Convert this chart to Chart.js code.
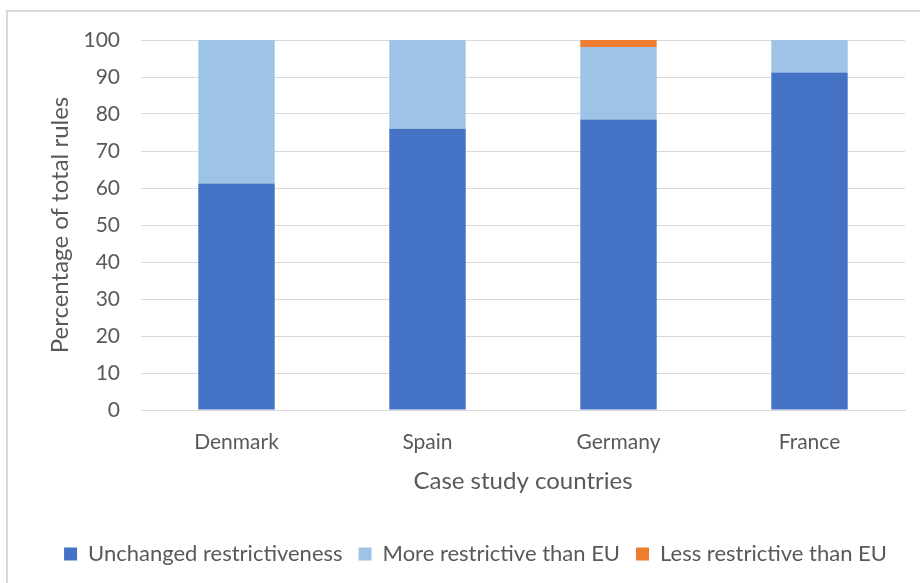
<!DOCTYPE html>
<html>
<head>
<meta charset="utf-8">
<script src="https://cdn.jsdelivr.net/npm/chart.js@4"></script>
<style>
    body { margin: 0; background: #fff; }
    #wrap { position: relative; width: 920px; height: 583px; overflow: hidden; }
    #frame { position: absolute; left: 6px; top: 10px; width: 960px; height: 620px; border: 2px solid #d9d9d9; }
    #chart1 { position: absolute; left: 0; top: 0; }
</style>
</head>
<body>
<div id="wrap">
    <div id="frame"></div>
    <canvas id="chart1" width="920" height="583"></canvas>
</div>
<script>
const countries = ['Denmark', 'Spain', 'Germany', 'France'];
const unchanged = [61.2, 76.0, 78.5, 91.2];
const moreRestrictive = [38.8, 24.0, 19.6, 8.8];
const lessRestrictive = [0, 0, 1.9, 0];
const yTicks = [0, 10, 20, 30, 40, 50, 60, 70, 80, 90, 100];

const fontFamily = 'Lato, "Open Sans", sans-serif';
const textColor = '#595959';

window.onload = function () {
    const ctx1 = document.getElementById('chart1').getContext('2d');

    new Chart(ctx1, {
        type: 'bar',
        data: {
            labels: countries,
            datasets: [{
                label: 'Unchanged restrictiveness',
                data: unchanged,
                backgroundColor: '#4472C4'
            }, {
                label: 'More restrictive than EU',
                data: moreRestrictive,
                backgroundColor: '#9DC3E6'
            }, {
                label: 'Less restrictive than EU',
                data: lessRestrictive,
                backgroundColor: '#ED7D31'
            }]
        },
        options: {
            responsive: false,
            animation: false,
            layout: {padding: {left: 46, right: 15, top: 40, bottom: 8}},
            datasets: {bar: {categoryPercentage: 1, barPercentage: 0.4}},
            plugins: {
                legend: {
                    position: 'bottom',
                    labels: {
                        boxWidth: 13,
                        boxHeight: 13,
                        padding: 16,
                        color: textColor,
                        font: {family: fontFamily, size: 22}
                    }
                },
                tooltip: {enabled: false}
            },
            scales: {
                x: {
                    stacked: true,
                    grid: {display: false, drawTicks: false},
                    border: {color: '#d9d9d9', width: 1},
                    ticks: {color: textColor, padding: 20, font: {family: fontFamily, size: 21}},
                    title: {
                        display: true,
                        text: 'Case study countries',
                        color: textColor,
                        padding: {top: 0, bottom: 31},
                        font: {family: fontFamily, size: 24}
                    },
                    afterFit: function (scale) { scale.height = 117; }
                },
                y: {
                    stacked: true,
                    min: 0,
                    max: 100,
                    afterBuildTicks: function (scale) {
                        scale.ticks = yTicks.map(v => ({value: v}));
                    },
                    grid: {color: '#d9d9d9', drawTicks: false},
                    border: {display: false},
                    ticks: {color: textColor, padding: 21, font: {family: fontFamily, size: 21}},
                    title: {
                        display: true,
                        text: 'Percentage of total rules',
                        color: textColor,
                        padding: {top: 0, bottom: 0},
                        font: {family: fontFamily, size: 24}
                    },
                    afterFit: function (scale) { scale.width = 95; }
                }
            }
        }
    });
}
</script>
</body>
</html>
